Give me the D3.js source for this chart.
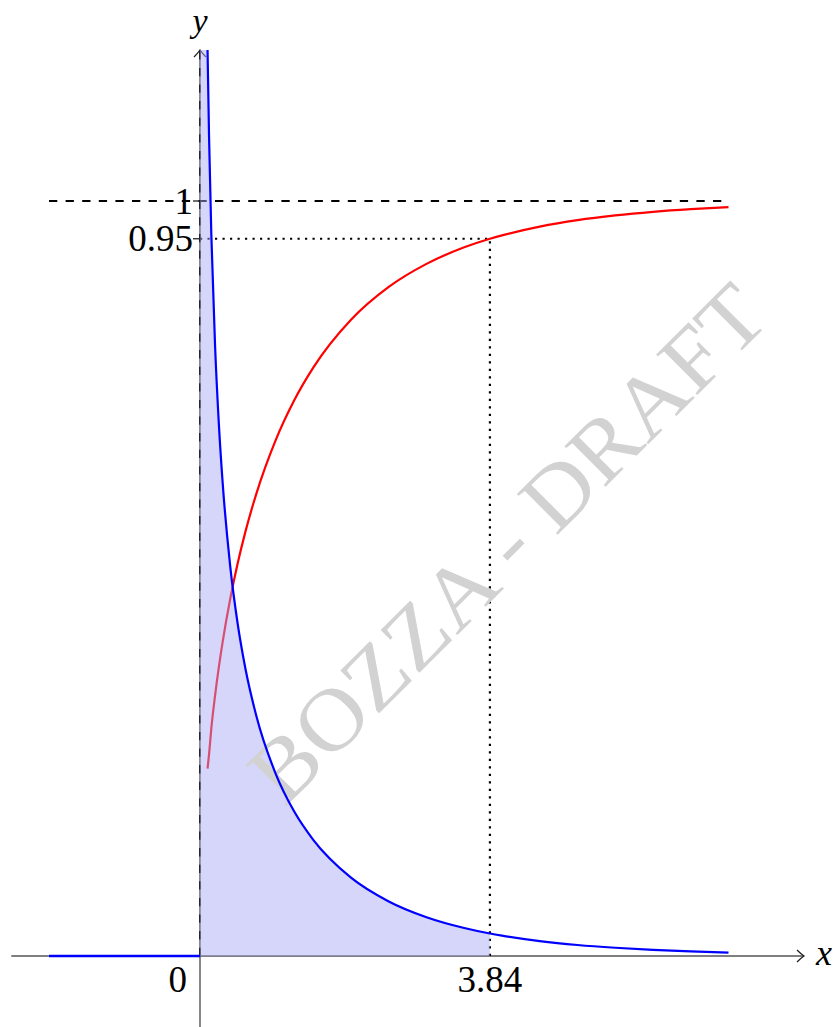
<!DOCTYPE html>
<html>
<head>
<meta charset="utf-8">
<script src="https://cdn.jsdelivr.net/npm/d3@7"></script>
<style>
  html, body { margin: 0; padding: 0; background: #fff; }
  svg { display: block; }
  text { font-family: "Liberation Serif", "DejaVu Serif", serif; }
</style>
</head>
<body>
<script>
// Chi-square distribution, 1 degree of freedom: density and cumulative curves
const xs      = [0.1, 0.12, 0.15, 0.2, 0.25, 0.3, 0.4, 0.5, 0.6, 0.75, 1, 1.25, 1.5, 2, 2.5, 3, 3.5, 3.84, 4, 4.5, 5, 5.5, 6, 6.5, 7];
const density = [1.2000, 1.0847, 0.9556, 0.8072, 0.7041, 0.6269, 0.5164, 0.4394, 0.3815, 0.3166, 0.2420, 0.1910, 0.1539, 0.1038, 0.0723, 0.0514, 0.0371, 0.0298, 0.0270, 0.0198, 0.0146, 0.0109, 0.0081, 0.0061, 0.0046];
const cumulative = [0.2482, 0.2671, 0.3015, 0.3453, 0.3829, 0.4161, 0.4729, 0.5205, 0.5614, 0.6135, 0.6827, 0.7364, 0.7793, 0.8427, 0.8862, 0.9167, 0.9387, 0.9500, 0.9545, 0.9661, 0.9747, 0.9810, 0.9857, 0.9892, 0.9918];
const zeroPart = [[-2, 0], [0, 0]];      // density is zero for x < 0
const critical = 3.84;                    // 95th percentile
const level = 0.95;
const yTicks = [1, 0.95];
const xLabels = [{ v: 0, t: "0" }, { v: critical, t: "3.84" }];
const xDomain = [-2.5, 8];
const yDomain = [-0.1, 1.2];
const watermark = "BOZZA - DRAFT";

const W = 837, H = 1027;
const svg = d3.select("body").append("svg").attr("width", W).attr("height", H);

const x = d3.scaleLinear().domain([0, 1]).range([200, 275.5]);
const y = d3.scaleLinear().domain([0, 1]).range([956, 201]);

const pdfPts = xs.map((v, i) => [v, density[i]]);
const cdfPts = xs.map((v, i) => [v, cumulative[i]]);

const line = d3.line().x(d => x(d[0])).y(d => y(d[1])).curve(d3.curveMonotoneX);

// Axes
const axisColor = "#555";
svg.append("line")
  .attr("x1", x(xDomain[0])).attr("x2", x(xDomain[1]))
  .attr("y1", y(0)).attr("y2", y(0))
  .attr("stroke", axisColor).attr("stroke-width", 1.4);
svg.append("line")
  .attr("x1", x(0)).attr("x2", x(0))
  .attr("y1", y(yDomain[0])).attr("y2", y(yDomain[1]))
  .attr("stroke", axisColor).attr("stroke-width", 1.4);
// arrow heads
svg.append("path")
  .attr("d", `M${x(xDomain[1]) - 7},${y(0) - 6} Q${x(xDomain[1]) - 3},${y(0) - 2} ${x(xDomain[1])},${y(0)} Q${x(xDomain[1]) - 3},${y(0) + 2} ${x(xDomain[1]) - 7},${y(0) + 6}`)
  .attr("fill", "none").attr("stroke", "#222").attr("stroke-width", 1.3);
svg.append("path")
  .attr("d", `M${x(0) - 6},${y(yDomain[1]) + 7} Q${x(0) - 2},${y(yDomain[1]) + 3} ${x(0)},${y(yDomain[1])} Q${x(0) + 2},${y(yDomain[1]) + 3} ${x(0) + 6},${y(yDomain[1]) + 7}`)
  .attr("fill", "none").attr("stroke", "#222").attr("stroke-width", 1.3);

// Dashed vertical at x = 0
svg.append("line")
  .attr("x1", x(0)).attr("x2", x(0))
  .attr("y1", y(0)).attr("y2", y(yDomain[1]))
  .attr("stroke", "#111").attr("stroke-width", 1.6)
  .attr("stroke-dasharray", "8.3 8.3");

// Asymptote y = 1
svg.append("line")
  .attr("x1", x(-2)).attr("x2", x(7))
  .attr("y1", y(1)).attr("y2", y(1))
  .attr("stroke", "#000").attr("stroke-width", 2.2)
  .attr("stroke-dasharray", "8.3 8.3");

// Dotted guides to the critical value
svg.append("line")
  .attr("x1", x(0)).attr("x2", x(critical))
  .attr("y1", y(level)).attr("y2", y(level))
  .attr("stroke", "#000").attr("stroke-width", 2.2)
  .attr("stroke-dasharray", "2.2 5.3");
svg.append("line")
  .attr("x1", x(critical)).attr("x2", x(critical))
  .attr("y1", y(0)).attr("y2", y(level))
  .attr("stroke", "#000").attr("stroke-width", 2.2)
  .attr("stroke-dasharray", "2.2 5.3");

// Cumulative distribution
svg.append("path")
  .attr("d", line(cdfPts))
  .attr("fill", "none").attr("stroke", "#ff0000").attr("stroke-width", 2.2);

// Shaded area under the density up to the critical value
const shadePts = [[0, 0], [0, density[0]]].concat(pdfPts.filter(d => d[0] <= critical)).concat([[critical, 0]]);
const area = d3.line().x(d => x(d[0])).y(d => y(d[1]));
svg.append("path")
  .attr("d", area(shadePts) + "Z")
  .attr("fill", "#a8a8f5").attr("fill-opacity", 0.47).attr("stroke", "none");

// Watermark
svg.append("text")
  .attr("transform", "translate(512,548) rotate(-45)")
  .attr("text-anchor", "middle")
  .attr("dy", "0.26em")
  .attr("font-size", 88)
  .attr("textLength", 690)
  .attr("lengthAdjust", "spacingAndGlyphs")
  .attr("fill", "#d2d2d2")
  .text(watermark);

// Density
svg.append("path")
  .attr("d", line(zeroPart))
  .attr("fill", "none").attr("stroke", "#0000ff").attr("stroke-width", 2.4);
svg.append("path")
  .attr("d", line(pdfPts))
  .attr("fill", "none").attr("stroke", "#0000ff").attr("stroke-width", 2.2);

// y ticks and labels
yTicks.forEach(v => {
  svg.append("line")
    .attr("x1", x(0) - 7).attr("x2", x(0))
    .attr("y1", y(v)).attr("y2", y(v))
    .attr("stroke", "#222").attr("stroke-width", 1.3);
  svg.append("text")
    .attr("x", x(0) - 7).attr("y", y(v) + 12.5)
    .attr("text-anchor", "end").attr("font-size", 37)
    .text(v === 1 ? "1" : String(v));
});

// x labels
xLabels.forEach(d => {
  svg.append("text")
    .attr("x", d.v === 0 ? x(0) - 13 : x(d.v))
    .attr("y", 992)
    .attr("text-anchor", d.v === 0 ? "end" : "middle")
    .attr("font-size", 37)
    .text(d.t);
});

// Axis names
svg.append("text")
  .attr("x", x(0)).attr("y", 32)
  .attr("text-anchor", "middle").attr("font-size", 34).attr("font-style", "italic")
  .text("y");
svg.append("text")
  .attr("x", 816).attr("y", 965)
  .attr("font-size", 36).attr("font-style", "italic")
  .text("x");
</script>
</body>
</html>
